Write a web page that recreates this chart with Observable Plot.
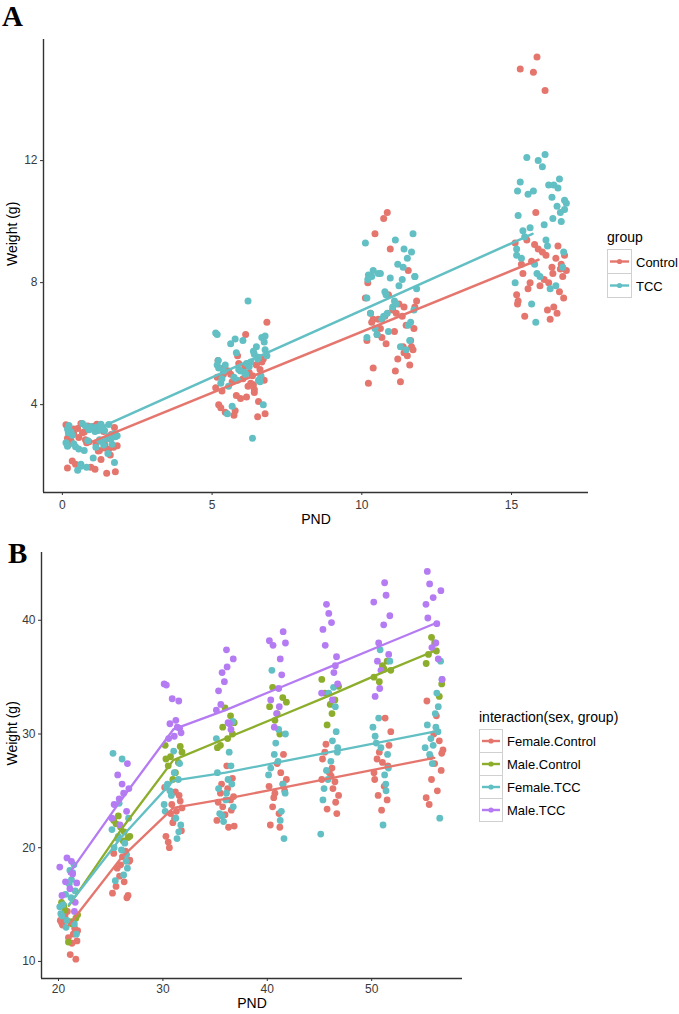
<!DOCTYPE html>
<html>
<head>
<meta charset="utf-8">
<script src="https://cdn.jsdelivr.net/npm/d3@7"></script>
<script src="https://cdn.jsdelivr.net/npm/@observablehq/plot@0.6"></script>
<style>
  body { margin: 0; background: #fff; font-family: "Liberation Sans", Arial, sans-serif; }
  #wrap { position: relative; width: 679px; height: 1014px; overflow: hidden; }
  .panel { position: absolute; left: 0; }
  .tag { position: absolute; font-family: "Liberation Serif", "Times New Roman", serif; font-weight: bold; font-size: 29px; line-height: 1.1; color: #000; }
  .legend { position: absolute; color: #000; }
  .legend .title { font-size: 14px; line-height: 16px; margin-bottom: 5px; }
  .legend .row { display: flex; align-items: center; font-size: 13px; }
  .legend .key { box-sizing: border-box; border: 1px solid #d0d0d0; margin-top: -1px; background: #fff; }
  .legend .row:first-of-type .key { margin-top: 0; }
  .legend .lab { margin-left: 4px; }
</style>
</head>
<body>
<div id="wrap">
  <div class="panel" id="pa" style="top:0"></div>
  <div class="panel" id="pb" style="top:535px"></div>
  <div class="tag" style="left:2px;top:1px">A</div>
  <div class="tag" style="left:8px;top:538px">B</div>
  <div class="legend" id="la" style="left:607px;top:229px"></div>
  <div class="legend" id="lb" style="left:479px;top:709px"></div>
</div>
<script>
// ---------- shared jitter offsets (PND units) ----------
const jitter = [-0.62, 0.41, -0.15, 0.77, -0.83, 0.12, 0.55, -0.38, 0.29, -0.71, 0.66, -0.05, -0.49, 0.83,
                0.2, -0.27, 0.48, -0.78, 0.03, 0.71, -0.56, 0.35, -0.19, 0.6, -0.88, 0.09, 0.52, -0.33,
                0.24, -0.67, 0.74, -0.11, 0.38, -0.45, 0.15, -0.8, 0.63, -0.23];

// ---------- Panel A data ----------
const groupsA = ["Control", "TCC"];
const colorsA = ["#e5766e", "#62bfc3"];
const pndA = [1, 6, 11, 16];
const controlA = [
  [3.05,2.7,3.3,1.8,2.9,3.15,2.55,3.38,2.2,2.82,3.0,1.95,3.22,2.65,2.48,3.1,1.75,2.95,3.28,2.6,2.05,3.18,2.75,2.35,3.34,1.88,2.88,3.08,2.5,2.15,3.25,2.78,
   3.12,2.92,3.36,2.68,3.02,2.85,3.2,2.58,3.28,2.98,1.92,2.72],
  [5.2,4.4,5.6,3.7,4.9,6.3,4.1,5.0,4.7,3.9,5.4,4.2,5.1,6.7,4.6,3.65,5.3,4.0,4.85,5.5,3.75,4.95,4.3,5.15,4.55,5.25,3.6,4.75,5.05,4.45,
   4.8,5.35,4.65,5.1,4.25,5.45,4.9,3.8,5.0,4.5],
  [6.8,5.7,10.3,7.2,6.1,5.1,8.4,6.5,4.75,7.0,5.9,9.1,6.3,7.4,5.5,10.1,6.6,4.7,7.1,5.8,9.6,6.9,6.0,5.3,7.5,6.4,5.6,6.2,7.3,6.7,
   6.5,7.6,5.9,6.8,7.0,8.0,6.1,6.9,5.2,7.2],
  [8.3,7.2,15.4,8.9,7.6,14.3,9.2,8.0,6.8,15.0,8.6,7.9,9.4,8.4,7.1,14.9,8.8,7.4,9.0,8.2,6.9,8.5,10.3,7.7,9.3,8.1,7.0,8.7,
   8.0,8.6,7.5,9.1,8.3,7.8,8.9,7.3,8.45,9.25]
];
const tccA = [
  [2.95,3.2,2.6,3.35,2.05,2.8,3.1,2.7,3.28,1.85,2.98,3.15,2.5,2.88,3.32,2.25,3.05,2.62,3.22,1.95,2.92,2.75,3.12,2.4,3.38,2.85,3.0,2.1,3.18,2.68,2.55,3.26,
   3.08,2.9,3.3,2.72,3.15,2.82,3.02,2.64,3.24,2.96,1.98,3.36],
  [5.8,6.3,5.0,4.8,6.0,5.4,4.7,6.2,5.1,3.7,5.6,7.4,4.9,5.9,5.2,6.1,4.0,5.3,2.9,5.7,4.75,6.35,5.05,5.5,3.95,5.25,4.85,6.05,5.15,5.75,4.6,5.35,
   5.45,4.95,6.15,5.1,5.65,4.8,6.25,5.3,5.0,5.55],
  [8.2,7.5,9.4,6.6,8.3,5.9,7.0,9.0,8.15,6.3,7.8,8.6,6.9,5.8,8.25,7.2,9.6,6.5,8.1,7.6,6.1,9.3,7.4,8.8,6.8,7.9,8.2,7.1,6.4,8.5,
   8.3,7.3,8.1,6.7,7.7,8.4,9.1,7.0,8.2,6.2],
  [10.4,8.9,12.2,11.1,9.8,7.8,11.3,10.0,8.2,12.1,10.6,9.2,11.0,7.9,10.2,11.8,8.5,9.5,10.8,6.7,11.4,8.0,9.9,10.5,7.3,11.2,8.8,9.0,12.0,10.1,
   10.9,9.4,11.0,10.3,8.6,9.7,11.2,8.3,10.7,9.1]
];
// fitted (linear) lines: endpoints
const fitControlX = [1.0, 15.9], fitControlY = [2.79, 8.75];
const fitTccX = [1.15, 15.7], fitTccY = [3.2, 9.6];
const ticksAx = [0, 5, 10, 15], ticksAy = [4, 8, 12];

// ---------- Panel B data ----------
const seriesB = ["Female.Control", "Male.Control", "Female.TCC", "Male.TCC"];
const colorsB = ["#e5766e", "#8dae2c", "#62bfc3", "#b57bf2"];
const pndB = [21, 26, 31, 36, 41, 46, 51, 56];
const femaleControl = [
  [13.2,12.4,14.4,11.8,13.6,10.6,12.9,14.0,11.6,13.4,10.2,12.1,13.9,12.7],
  [19.7,17.5,18.8,16.0,19.2,15.6,18.2,17.0,19.5,15.8,18.5,16.6,18.9],
  [23.8,21.5,25.3,22.6,24.6,20.0,23.2,21.0,24.1,22.2,20.5,23.5,24.9,23.0],
  [24.5,22.4,27.2,23.3,25.6,21.8,24.0,26.1,22.9,24.8,21.9,25.2,23.6,24.2],
  [25.4,23.0,28.2,24.4,26.6,22.0,25.0,27.4,23.6,26.0,21.8,24.8,25.6],
  [26.3,24.0,29.1,25.2,27.8,23.0,26.6,28.4,24.6,27.0,23.4,25.8,26.0],
  [27.2,24.6,31.4,26.0,29.0,23.3,27.8,30.2,25.4,28.4,24.2,26.6,27.5],
  [28.0,25.0,32.9,26.8,30.0,23.8,28.6,31.6,26.0,29.4,24.4,27.4,28.3]
];
const maleControl = [
  [14.5,13.3,15.2,13.8,11.7,14.9,14.1,13.5],
  [21.4,22.4,20.9,21.8,22.1,21.0,20.6,22.8],
  [27.8,28.9,26.0,27.2,28.4,26.6,28.0,27.5,29.0],
  [30.0,32.3,29.0,31.0,29.6,30.6,31.6,28.8],
  [31.8,34.1,32.8,30.0,31.2,33.2,32.4],
  [33.6,34.2,31.8,30.8,33.0,34.8,32.6],
  [35.6,35.7,34.6,36.4,35.0,36.0],
  [37.3,38.5,33.3,36.2,38.0,34.4,37.0]
];
const femaleTCC = [
  [15.6,13.0,18.5,14.2,16.8,12.4,15.0,17.8,13.6,16.2,14.8,18.0,13.3,15.9,17.2,14.0],
  [21.0,18.8,28.3,19.8,22.6,17.1,20.4,23.9,18.2,21.6,27.8,19.4,20.8,17.6,20.0],
  [26.0,23.2,28.5,22.0,25.6,20.8,24.6,27.4,23.8,26.6,21.4,25.0,22.6,25.4],
  [26.6,24.2,31.1,23.0,28.4,22.3,25.6,29.6,24.8,27.2,22.8,26.0,25.2,23.6],
  [27.6,24.8,35.6,23.2,29.2,20.8,26.4,30.4,25.6,28.2,22.4,27.0,30.0],
  [28.4,25.2,34.1,26.0,30.2,21.2,27.6,32.4,26.8,29.4,24.2,28.8,33.6],
  [29.2,25.6,37.4,27.0,30.6,22.0,28.2,31.4,26.4,29.8,36.4,28.8,25.0],
  [30.2,27.4,36.4,28.8,31.8,22.6,29.6,33.6,30.8,34.8,29.0,32.4,28.2,30.6]
];
const maleTCC = [
  [17.7,19.1,15.2,18.3,16.4,14.4,17.0,18.8,15.8,16.9],
  [24.3,27.4,22.6,25.6,23.2,26.4,24.8,23.8,25.2,22.0],
  [30.5,34.4,29.8,32.9,30.9,31.2,34.3,30.1,33.1,30.6,29.6],
  [32.1,37.4,30.4,35.4,31.0,33.8,36.6,34.6,30.9,32.6,35.9],
  [34.0,39.0,30.6,36.6,33.0,38.0,31.8,35.2,37.8,32.4,38.2],
  [36.0,41.4,33.0,39.2,34.4,40.6,35.4,37.8,39.8,33.6,36.8],
  [38.0,43.3,33.3,40.4,35.6,42.2,36.4,39.6,41.6,37.0,34.0],
  [39.7,44.3,34.8,42.0,36.6,43.2,38.0,41.4,42.6,37.6,40.2]
];
// mean lines per series at each PND
const meanFemaleControl = [13.2, 19.1, 23.5, 24.3, 25.2, 26.1, 27.0, 27.9];
const meanMaleControl   = [14.9, 21.6, 27.7, 29.6, 31.5, 33.4, 35.4, 37.3];
const meanFemaleTCC     = [15.0, 20.9, 25.9, 26.6, 27.5, 28.4, 29.3, 30.2];
const meanMaleTCC       = [17.7, 24.2, 30.4, 32.1, 34.0, 35.9, 37.8, 39.7];
const ticksBx = [20, 30, 40, 50], ticksBy = [10, 20, 30, 40];

// ---------- build rows ----------
function jitterRows(pnds, lists, group, shift) {
  const rows = [];
  lists.forEach((ws, k) => ws.forEach((w, i) => {
    rows.push({ x: pnds[k] + jitter[(i + shift + k * 5) % jitter.length], y: w, group });
  }));
  return rows;
}
function lineRows(xs, ys, group) { return xs.map((x, i) => ({ x, y: ys[i], group })); }

const ptsA = [];
pndA.forEach((p, k) => {
  ptsA.push(...jitterRows([p], [controlA[k]], "Control", 0));
  ptsA.push(...jitterRows([p], [tccA[k]], "TCC", 3));
});
const linesA = [...lineRows(fitControlX, fitControlY, "Control"), ...lineRows(fitTccX, fitTccY, "TCC")];

const listsB = [femaleControl, maleControl, femaleTCC, maleTCC];
const meansB = [meanFemaleControl, meanMaleControl, meanFemaleTCC, meanMaleTCC];
const ptsB = [];
pndB.forEach((p, k) => {
  listsB.forEach((L, s) => ptsB.push(...jitterRows([p], [L[k]], seriesB[s], s * 7 + k)));
});
const linesB = seriesB.flatMap((s, i) => lineRows(pndB, meansB[i], s));

const axisColor = "#333";
const textColor = "#3a3a3a";

// ---------- Panel A ----------
const xDomA = [-0.63, 17.57], yDomA = [1.12, 15.97];
const plotA = Plot.plot({
  width: 679, height: 535,
  marginLeft: 43, marginRight: 91, marginTop: 39, marginBottom: 43,
  style: { fontFamily: "'Liberation Sans', Arial, sans-serif", fontSize: "12px", color: textColor, background: "#fff" },
  x: { domain: xDomA },
  y: { domain: yDomA },
  color: { domain: groupsA, range: colorsA },
  marks: [
    Plot.dot(ptsA, { x: "x", y: "y", fill: "group", r: 3.5, stroke: "none" }),
    Plot.line(linesA, { x: "x", y: "y", stroke: "group", z: "group", strokeWidth: 2.5 }),
    Plot.ruleX([xDomA[0]], { stroke: axisColor, strokeWidth: 1.4 }),
    Plot.ruleY([yDomA[0]], { stroke: axisColor, strokeWidth: 1.4 }),
    Plot.axisX({ ticks: ticksAx, tickSize: 3, tickPadding: 5, label: null, stroke: axisColor, fill: textColor, fontSize: 12 }),
    Plot.axisY({ ticks: ticksAy, tickSize: 3, tickPadding: 3, label: null, stroke: axisColor, fill: textColor, fontSize: 12 }),
    Plot.text(["PND"], { frameAnchor: "bottom", dy: 31, fontSize: 14, fill: "#000" }),
    Plot.text(["Weight (g)"], { frameAnchor: "left", dx: -31, rotate: -90, fontSize: 14, fill: "#000" })
  ]
});
document.getElementById("pa").appendChild(plotA);

// ---------- Panel B ----------
const xDomB = [18.37, 58.7], yDomB = [8.5, 45.96];
const plotB = Plot.plot({
  width: 679, height: 479,
  marginLeft: 41, marginRight: 217, marginTop: 17, marginBottom: 36,
  style: { fontFamily: "'Liberation Sans', Arial, sans-serif", fontSize: "12px", color: textColor, background: "#fff" },
  x: { domain: xDomB },
  y: { domain: yDomB },
  color: { domain: seriesB, range: colorsB },
  marks: [
    Plot.dot(ptsB, { x: "x", y: "y", fill: "group", r: 3.4, stroke: "none" }),
    Plot.line(linesB, { x: "x", y: "y", stroke: "group", z: "group", strokeWidth: 2.3 }),
    Plot.ruleX([xDomB[0]], { stroke: axisColor, strokeWidth: 1.4 }),
    Plot.ruleY([yDomB[0]], { stroke: axisColor, strokeWidth: 1.4 }),
    Plot.axisX({ ticks: ticksBx, tickSize: 3, tickPadding: 3, label: null, stroke: axisColor, fill: textColor, fontSize: 12 }),
    Plot.axisY({ ticks: ticksBy, tickSize: 3, tickPadding: 3, label: null, stroke: axisColor, fill: textColor, fontSize: 12 }),
    Plot.text(["PND"], { frameAnchor: "bottom", dy: 29, fontSize: 14, fill: "#000" }),
    Plot.text(["Weight (g)"], { frameAnchor: "left", dx: -29, rotate: -90, fontSize: 14, fill: "#000" })
  ]
});
document.getElementById("pb").appendChild(plotB);

// ---------- legends ----------
function legend(el, title, names, colors, keyW, keyH) {
  const t = document.createElement("div");
  t.className = "title"; t.textContent = title; el.appendChild(t);
  names.forEach((n, i) => {
    const row = document.createElement("div"); row.className = "row";
    const key = document.createElement("div"); key.className = "key";
    key.style.width = keyW + "px"; key.style.height = keyH + "px";
    key.innerHTML = `<svg width="${keyW - 2}" height="${keyH - 2}"><line x1="2" x2="${keyW - 4}" y1="${(keyH - 2) / 2}" y2="${(keyH - 2) / 2}" stroke="${colors[i]}" stroke-width="2.4"/><circle cx="${(keyW - 2) / 2}" cy="${(keyH - 2) / 2}" r="2.6" fill="${colors[i]}"/></svg>`;
    const lab = document.createElement("span"); lab.className = "lab"; lab.textContent = n;
    row.appendChild(key); row.appendChild(lab); el.appendChild(row);
  });
}
legend(document.getElementById("la"), "group", groupsA, colorsA, 25, 25);
legend(document.getElementById("lb"), "interaction(sex, group)", seriesB, colorsB, 24, 24);
</script>
</body>
</html>
